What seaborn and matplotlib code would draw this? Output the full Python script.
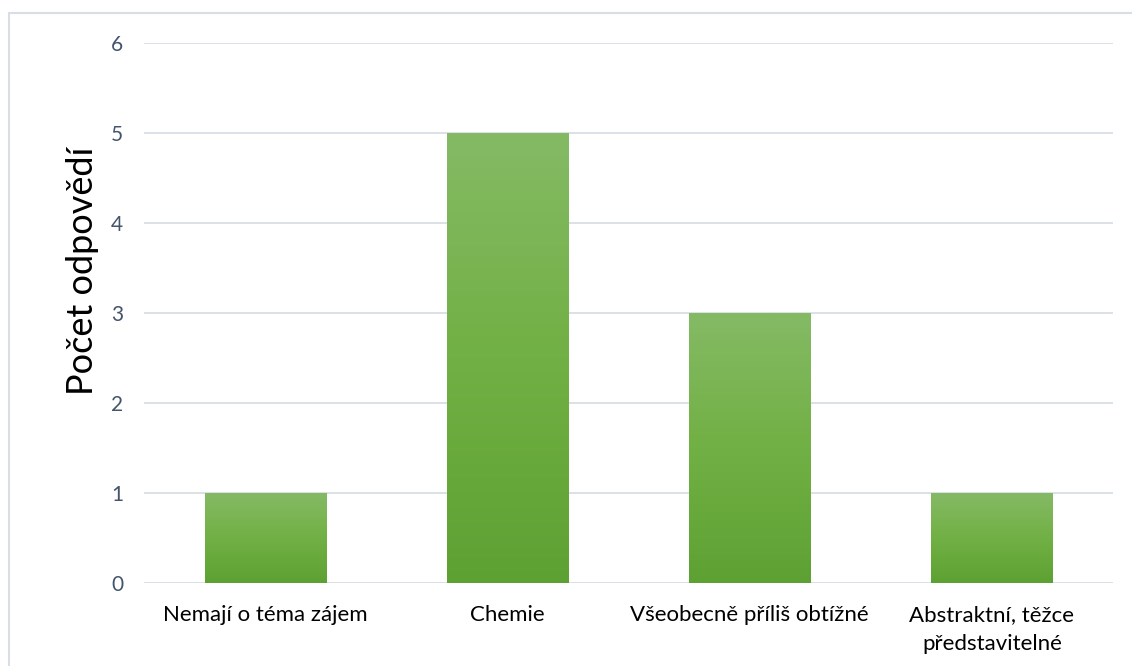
import numpy as np
import pandas as pd
import seaborn as sns
import matplotlib.pyplot as plt
from matplotlib.colors import LinearSegmentedColormap
from matplotlib.patches import Rectangle

# data
categories = ['Nemají o téma zájem', 'Chemie', 'Všeobecně příliš obtížné',
              'Abstraktní, těžce\npředstavitelné']
counts = [1, 5, 3, 1]
y_ticks = [0, 1, 2, 3, 4, 5, 6]

df = pd.DataFrame({'kategorie': categories, 'pocet': counts})

sns.set_theme(style='white')
plt.rcParams['font.family'] = ['Lato', 'DejaVu Sans']

fig = plt.figure(figsize=(11.32, 6.66), dpi=100)
ax = fig.add_axes([0.1272, 0.1246, 0.8560, 0.8108])

sns.barplot(data=df, x='kategorie', y='pocet', color='#70AD47', width=0.5,
            ax=ax, zorder=2)

# vertical gradient fill on each bar
grad = LinearSegmentedColormap.from_list('g', ['#5EA133', '#71B044', '#85BA65'])
gimg = np.linspace(0, 1, 256).reshape(-1, 1)
for p in ax.patches:
    x0, y0 = p.get_x(), p.get_y()
    w, h = p.get_width(), p.get_height()
    p.set_facecolor('none')
    p.set_edgecolor('none')
    ax.imshow(gimg, cmap=grad, origin='lower', aspect='auto',
              extent=[x0, x0 + w, y0, y0 + h], zorder=2)

ax.set_xlim(-0.5, len(categories) - 0.5)
ax.set_ylim(0, 6)
ax.set_yticks(y_ticks)
ax.set_yticklabels([str(t) for t in y_ticks], fontsize=15, color='#44546A')
ax.tick_params(axis='y', length=0, pad=15)
ax.tick_params(axis='x', length=0, pad=16, labelsize=16, labelcolor='#000000')
for lbl in ax.get_xticklabels():
    lbl.set_linespacing(1.55)
ax.yaxis.grid(True, color='#D9DEE6', linewidth=1.3, zorder=0)
ax.xaxis.grid(False)
ax.set_axisbelow(True)
for s in ax.spines.values():
    s.set_visible(False)

ax.set_xlabel('')
ax.set_ylabel('Počet odpovědí', fontsize=26, color='#000000')
ax.yaxis.set_label_coords(-0.046, 0.578)

# light frame around chart area
fig.patches.append(Rectangle((9 / 1132, -0.1), 1.2, 1 - 13 / 666 + 0.1,
                             transform=fig.transFigure, fill=False,
                             edgecolor='#D9DEE6', linewidth=1.5))

fig.savefig('out.png', dpi=100)
